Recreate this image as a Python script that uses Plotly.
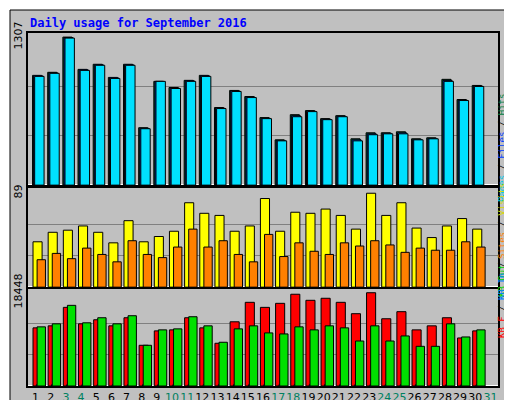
import plotly.graph_objects as go
from plotly.subplots import make_subplots

days = list(range(1, 32))
weekend = [3, 4, 10, 11, 17, 18, 24, 25, 31]
# values (day 31 has no data)
hits = [969, 996, 1307, 1022, 1067, 951, 1067, 507, 916, 862, 925, 969, 685, 836, 782, 596,
        400, 622, 658, 587, 613, 409, 462, 462, 471, 409, 418, 934, 756, 880]
files = [965, 991, 1302, 1018, 1062, 947, 1062, 502, 916, 858, 921, 965, 680, 832, 778, 591,
         395, 613, 653, 582, 609, 400, 453, 458, 462, 404, 413, 925, 751, 876]
pages = [960, 987, 1298, 1013, 1058, 942, 1058, 498, 916, 853, 916, 960, 676, 827, 773, 587,
         391, 604, 649, 578, 604, 391, 445, 453, 453, 400, 409, 916, 747, 871]
visits = [43, 52, 54, 58, 52, 42, 63, 43, 48, 53, 80, 70, 68, 53, 58, 84,
          53, 71, 70, 74, 68, 55, 89, 68, 80, 56, 47, 58, 65, 55]
sites = [26, 32, 27, 37, 31, 24, 44, 31, 28, 38, 55, 38, 44, 31, 24, 50,
         29, 42, 34, 31, 42, 39, 44, 40, 33, 37, 35, 35, 43, 38]
kbf = [11500, 11900, 15550, 12300, 13100, 11900, 13500, 8050, 10900, 11100, 13500, 11500, 8450, 12700, 16550, 15550,
       16350, 18150, 16950, 17350, 16550, 14300, 18448, 13300, 14700, 11100, 11900, 13500, 9500, 10900]
kbin = [250] * 30
kbout = [11700, 12300, 15950, 12500, 13500, 12300, 13900, 8050, 11100, 11300, 13700, 11900, 8650, 11300, 11900, 10500,
         10300, 11700, 11100, 11900, 11500, 8900, 11900, 8900, 9900, 7850, 7850, 12300, 9700, 11100]
x = days[:30]

max1, max2, max3 = 1307, 89, 18448

fig = make_subplots(rows=3, cols=1, shared_xaxes=True, vertical_spacing=0.0)
ol = dict(color="black", width=1)
fig.add_bar(x=x, y=hits, marker=dict(color="#008040", line=ol), offset=-0.2, width=0.6, row=1, col=1)
fig.add_bar(x=x, y=files, marker=dict(color="#0040FF", line=ol), offset=-0.13, width=0.6, row=1, col=1)
fig.add_bar(x=x, y=pages, marker=dict(color="#00E0FF", line=ol), offset=-0.06, width=0.62, row=1, col=1)
fig.add_bar(x=x, y=visits, marker=dict(color="#FFFF00", line=ol), offset=-0.17, width=0.6, row=2, col=1)
fig.add_bar(x=x, y=sites, marker=dict(color="#FF8000", line=ol), offset=0.1, width=0.55, row=2, col=1)
fig.add_bar(x=x, y=kbf, marker=dict(color="#FF0000", line=ol), offset=-0.17, width=0.6, row=3, col=1)
fig.add_bar(x=x, y=kbin, marker=dict(color="#0080FF", line=ol), offset=0.05, width=0.2, row=3, col=1)
fig.add_bar(x=x, y=kbout, marker=dict(color="#00E000", line=ol), offset=0.1, width=0.55, row=3, col=1)

mono = "DejaVu Sans Mono"
fig.update_layout(
    width=512, height=400, barmode="overlay", showlegend=False,
    paper_bgcolor="#C0C0C0", plot_bgcolor="#C0C0C0",
    margin=dict(l=20, r=22, t=25, b=22, autoexpand=False),
    font=dict(family=mono, size=11, color="black"),
)
ticktext = [f"<span style='color:#008060'>{d}</span>" if d in weekend else str(d) for d in days]
for r in (1, 2, 3):
    fig.update_xaxes(range=[0.5, 31.5], showgrid=False, showline=True, linecolor="black",
                     linewidth=2, mirror=True, tickvals=days, ticktext=ticktext, tickangle=0,
                     automargin=False, tickfont=dict(family="DejaVu Sans", size=11),
                     showticklabels=(r == 3), ticks="", row=r, col=1)
for r, mx, top, lab in ((1, max1, 1343, "1307"), (2, max2, 94, "89"), (3, max3, 19200, "18448")):
    fig.update_yaxes(range=[0, top], tickvals=[mx], ticktext=[lab], tickangle=-90,
                     showgrid=False, showline=True, linecolor="black", linewidth=2, mirror=True,
                     ticks="", automargin=False, tickfont=dict(family="DejaVu Sans", size=11),
                     minor=dict(tickvals=[mx / 3, 2 * mx / 3], showgrid=True, gridcolor="#808080", gridwidth=1, ticks=""),
                     row=r, col=1)
fig.update_layout(yaxis=dict(domain=[0.569, 1]), yaxis2=dict(domain=[0.28, 0.561]),
                  yaxis3=dict(domain=[0, 0.275]))

def px(xp, yp):
    return (xp - 20) / 470, (378 - yp) / 353

tx, ty = px(20, 15)
fig.add_annotation(x=tx, y=ty, xref="paper", yref="paper", xanchor="left", yanchor="middle",
                   text="<b>Daily usage for September 2016</b>", showarrow=False,
                   font=dict(family=mono, size=12, color="#0000FF"))

def side(text, yc):
    xx, yy = px(501, yc)
    fig.add_annotation(x=xx, y=yy, xref="paper", yref="paper", text=text, textangle=-90,
                       showarrow=False, font=dict(family=mono, size=9))

side("<span style='color:#00C8E8'>Pages</span> / <span style='color:#0040FF'>Files</span> / "
     "<span style='color:#008040'>Hits</span>", 84)
side("<span style='color:#00D000'>KB Out</span> <span style='color:#FF8000'>Sites</span> / "
     "<span style='color:#D8D800'>Visits</span>", 232)
side("<span style='color:#FF0000'>KB F</span> / <span style='color:#0080FF'>KB In</span> /", 332)

# frame
x0, y0 = px(0, 0); x1, y1 = px(512, 400)
fig.add_shape(type="line", xref="paper", yref="paper", x0=x0, y0=px(0, 1)[1], x1=x1, y1=px(0, 1)[1],
              line=dict(color="white", width=2))
fig.add_shape(type="line", xref="paper", yref="paper", x0=px(1, 0)[0], y0=y0, x1=px(1, 0)[0], y1=y1,
              line=dict(color="white", width=2))
fig.add_shape(type="line", xref="paper", yref="paper", x0=px(508, 0)[0], y0=px(0, 6)[1], x1=px(508, 0)[0],
              y1=px(0, 396)[1], line=dict(color="#808080", width=6))
fig.add_shape(type="line", xref="paper", yref="paper", x0=px(4, 0)[0], y0=px(0, 396)[1], x1=px(508, 0)[0],
              y1=px(0, 396)[1], line=dict(color="#808080", width=6))
fig.add_shape(type="rect", xref="paper", yref="paper", x0=px(2, 0)[0], y0=px(0, 2)[1], x1=px(510, 0)[0],
              y1=px(0, 398)[1], line=dict(color="black", width=1))
fig.write_html("out.html")
